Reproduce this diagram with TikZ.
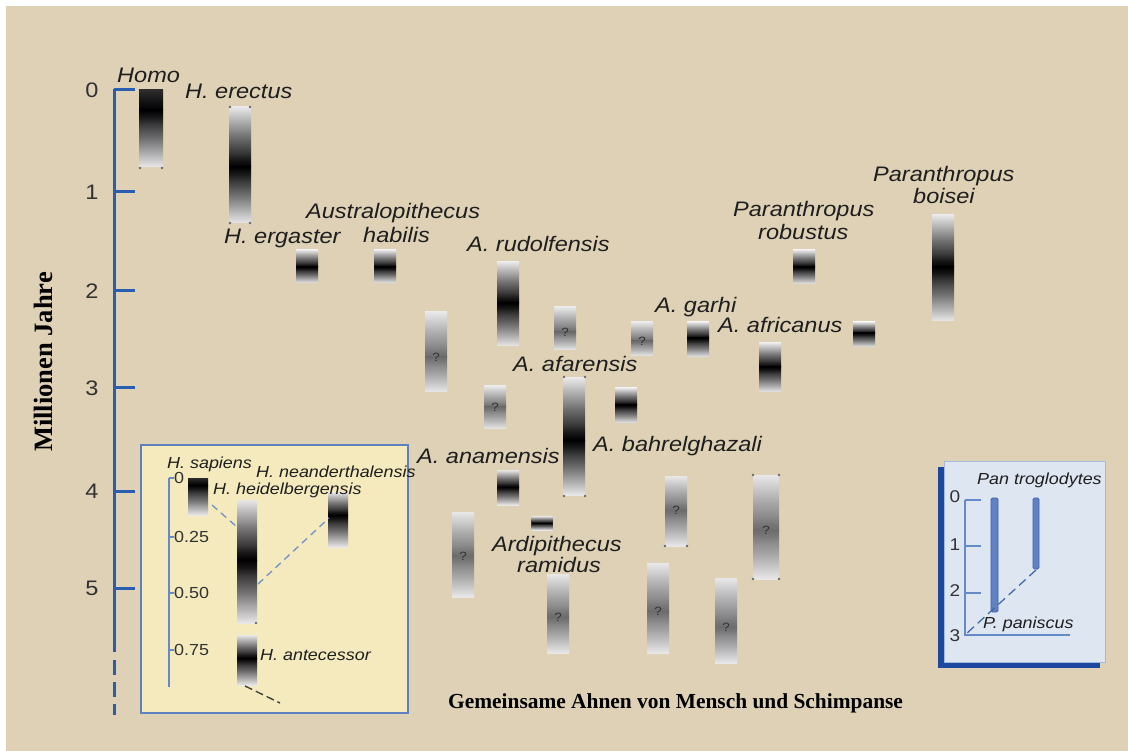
\documentclass[tikz,border=0pt]{standalone}
\usepackage{fontspec}
\newfontfamily\labfont[FakeStretch=1.12]{Liberation Sans}
\newfontfamily\capfont{Liberation Serif}
\definecolor{bgtan}{RGB}{222,209,182}
\definecolor{axisblue}{RGB}{42,92,178}
\definecolor{labc}{RGB}{30,30,30}
\definecolor{numc}{RGB}{50,50,50}
\definecolor{fend}{RGB}{232,232,232}
\definecolor{fcore}{RGB}{0,0,0}
\definecolor{ftopdark}{RGB}{45,45,45}
\definecolor{fq}{RGB}{108,108,108}
\definecolor{dotc}{RGB}{105,105,105}
\definecolor{paleyellow}{RGB}{244,234,190}
\definecolor{yellowedge}{RGB}{95,128,190}
\definecolor{insetaxis}{RGB}{100,138,200}
\definecolor{dashblue}{RGB}{120,150,196}
\definecolor{paleblue}{RGB}{222,230,242}
\definecolor{paleedge}{RGB}{165,185,218}
\definecolor{shadowblue}{RGB}{28,72,160}
\definecolor{chimpbar}{RGB}{96,130,196}
\definecolor{chimpedge}{RGB}{62,98,172}
\colorlet{fEnd}{fend}
\colorlet{fCore}{fcore}

% soft fade between a pale end and a dark core
\pgfdeclareverticalshading[fEnd,fCore]{coredown}{100bp}{%
  color(0bp)=(fCore); color(25bp)=(fCore); color(31bp)=(fCore!90!fEnd);
  color(37.5bp)=(fCore!75!fEnd); color(50bp)=(fCore!52!fEnd);
  color(62.5bp)=(fCore!26!fEnd); color(75bp)=(fEnd); color(100bp)=(fEnd)}
\pgfdeclareverticalshading[fEnd,fCore]{coreup}{100bp}{%
  color(0bp)=(fEnd); color(25bp)=(fEnd); color(37.5bp)=(fCore!26!fEnd);
  color(50bp)=(fCore!52!fEnd); color(62.5bp)=(fCore!75!fEnd);
  color(69bp)=(fCore!90!fEnd); color(75bp)=(fCore); color(100bp)=(fCore)}

% a fossil range: centre x, top, darkest point, bottom, half width, colours
\newcommand\fossil[8]{%
  \colorlet{fEnd}{#6}\colorlet{fCore}{#7}%
  \shade[shading=coredown] ({#1-#5},#2) rectangle ({#1+#5},#3);
  \colorlet{fEnd}{#8}%
  \shade[shading=coreup] ({#1-#5},#3) rectangle ({#1+#5},#4);
}
\newcommand\dfossil[5]{\fossil{#1}{#2}{#3}{#4}{#5}{fend}{fcore}{fend}}
\newcommand\qfossil[5]{%
  \fossil{#1}{#2}{#3}{#4}{#5}{fend}{fq}{fend}%
  \node[qmark] (q#1) at (#1,#3) {?};%
}
\newcommand\markdot[2]{\fill[dotc] (#1,#2) circle (1.3pt);}

\begin{document}
\begin{tikzpicture}[x=1pt,y=-1pt,
  lab/.style={font=\labfont\itshape\fontsize{21}{21}\selectfont, text=labc, inner sep=0pt, anchor=base west},
  slab/.style={font=\labfont\itshape\fontsize{16}{16}\selectfont, text=labc, inner sep=0pt, anchor=base west},
  num/.style={font=\labfont\fontsize{21}{21}\selectfont, text=numc, inner sep=0pt},
  snum/.style={font=\labfont\fontsize{16}{16}\selectfont, text=numc, inner sep=0pt, anchor=west},
  cnum/.style={font=\labfont\fontsize{17}{17}\selectfont, text=numc, inner sep=0pt},
  qmark/.style={font=\labfont\fontsize{12}{12}\selectfont, text=numc, inner sep=0pt},
  mainaxis/.style={axisblue, line width=3pt},
  insetline/.style={insetaxis, line width=1.3pt},
  linkdash/.style={dashblue, line width=1.4pt, dash pattern=on 7pt off 5pt},
]
\useasboundingbox (0,0) rectangle (1128,751);
\fill[white] (0,0) rectangle (1128,751);
\fill[bgtan] (6,6) rectangle (1128,751);

% time axis in million years
\draw[mainaxis] (114,89) -- (114,652);
\draw[mainaxis, dash pattern=on 15pt off 7pt] (114,660) -- (114,715);
\foreach \t/\y in {0/90,1/192,2/291,3/388,4/491,5/588}{
  \draw[mainaxis] (114,\y) -- (135,\y);
  \node[num] (tick\t) at (92,\y) {\t};
}
\node[font=\capfont\bfseries\fontsize{26.5}{26.5}\selectfont, rotate=90, inner sep=0pt] (ylabel) at (43,362) {Millionen Jahre};

% fossil ranges
\fossil{151}{90}{110}{167}{12}{ftopdark}{fcore}{fend}
\dfossil{240}{107}{167}{223}{11}
\dfossil{307}{250}{267}{283}{11}
\dfossil{385}{250}{267}{283}{11}
\dfossil{508}{262}{303}{346}{11}
\dfossil{698}{322}{338}{357}{11}
\dfossil{770}{343}{367}{392}{11}
\dfossil{864}{322}{333}{347}{11}
\dfossil{804}{250}{267}{284}{11}
\dfossil{943}{215}{267}{321}{11}
\dfossil{574}{378}{440}{495}{11}
\dfossil{626}{388}{405}{423}{11}
\dfossil{508}{470}{487}{505}{11}
\dfossil{542}{516}{523}{530}{10.5}

% uncertain ranges
\qfossil{436}{312}{357}{392}{11}
\qfossil{565}{307}{332}{350}{11}
\qfossil{642}{322}{341}{356}{11}
\qfossil{495}{386}{407}{429}{11}
\qfossil{463}{512}{556}{597}{11}
\qfossil{676}{476}{510}{546}{11}
\qfossil{766}{475}{530}{579}{13}
\qfossil{558}{574}{617}{653}{11}
\qfossil{658}{563}{611}{653}{11}
\qfossil{726}{578}{627}{663}{11}

% end markers
\markdot{140}{168}\markdot{162}{168}
\markdot{230}{107}\markdot{250}{107}\markdot{230}{223}\markdot{250}{223}
\markdot{564}{377}\markdot{585}{377}\markdot{564}{496}\markdot{585}{496}
\markdot{665}{546}\markdot{687}{546}
\markdot{753}{475}\markdot{779}{475}\markdot{753}{579}\markdot{779}{579}

% species names
\node[lab] (homo) at (117,83) {Homo};
\node[lab] (erectus) at (185,99) {H. erectus};
\node[lab] (ergaster) at (224,244) {H. ergaster};
\node[lab] (austra) at (306,219) {Australopithecus};
\node[lab] (habilis) at (363,243) {habilis};
\node[lab] (rudolf) at (467,252) {A. rudolfensis};
\node[lab] (garhi) at (655,313) {A. garhi};
\node[lab] (africanus) at (718,333) {A. africanus};
\node[lab] (afarensis) at (513,372) {A. afarensis};
\node[lab] (bahrel) at (593,451) {A. bahrelghazali};
\node[lab] (anamensis) at (417,463) {A. anamensis};
\node[lab] (ardi) at (492,551) {Ardipithecus};
\node[lab] (ramidus) at (517,572.5) {ramidus};
\node[lab] (para1) at (733,217) {Paranthropus};
\node[lab] (robustus) at (758,240) {robustus};
\node[lab] (para2) at (873,182) {Paranthropus};
\node[lab] (boisei) at (913,204) {boisei};

% genus Homo detail box
\filldraw[fill=paleyellow, draw=yellowedge, line width=1.2pt] (141,445) rectangle (408,713);
\draw[insetline] (169,478) -- (169,687);
\foreach \v/\y in {0/478,0.25/537,0.50/593,0.75/650}{
  \draw[insetline] (169,\y) -- (174,\y);
  \node[snum] (h\y) at (174,\y) {\v};
}
\fossil{198}{478}{485}{515}{10}{ftopdark}{fcore}{fend}
\dfossil{247}{500}{560}{623}{10}
\dfossil{338}{492}{515}{547}{10}
\dfossil{247}{635}{658}{685}{10}
\markdot{256}{623}
\coordinate (sapB) at (212,505);
\coordinate (heiT) at (237,527);
\coordinate (heiR) at (258,584);
\coordinate (neaL) at (329,518);
\coordinate (antB) at (245,686);
\coordinate (antX) at (280,703);
\draw[linkdash] (sapB) -- (heiT);
\draw[linkdash] (heiR) -- (neaL);
\draw[labc!85, line width=1.4pt, dash pattern=on 8pt off 4pt] (antB) -- (antX);
\node[slab] (sapiens) at (167,468) {H. sapiens};
\node[slab] (neander) at (256,477) {H. neanderthalensis};
\node[slab] (heidel) at (213,494) {H. heidelbergensis};
\node[slab] (antec) at (260,660) {H. antecessor};

% chimpanzee box
\fill[shadowblue] (938,467) rectangle (1100,668);
\filldraw[fill=paleblue, draw=paleedge, line width=0.8pt] (944,461) rectangle (1105,662);
\draw[insetline] (965,500) -- (965,635) -- (1070,635);
\foreach \v/\y in {0/500,1/546,2/593}{
  \draw[insetline] (965,\y) -- (981,\y);
}
\foreach \v/\y in {0/497,1/545,2/591,3/636}{
  \node[cnum] (c\v) at (955,\y) {\v};
}
\filldraw[fill=chimpbar, draw=chimpedge, line width=0.8pt, rounded corners=1.5pt] (991,498) rectangle (998,612);
\filldraw[fill=chimpbar, draw=chimpedge, line width=0.8pt, rounded corners=1.5pt] (1033,498) rectangle (1039,569);
\coordinate (trogB) at (1036,570);
\coordinate (splitP) at (966,634);
\draw[chimpedge, line width=1.2pt, dash pattern=on 9pt off 5pt] (trogB) -- (splitP);
\node[slab] (pantrog) at (977,484) {Pan troglodytes};
\node[slab] (panisc) at (983,628) {P. paniscus};

% caption
\node[anchor=base west, inner sep=0pt, font=\capfont\bfseries\fontsize{21.4}{21.4}\selectfont] (caption) at (448,708) {Gemeinsame Ahnen von Mensch und Schimpanse};
\end{tikzpicture}
\end{document}
